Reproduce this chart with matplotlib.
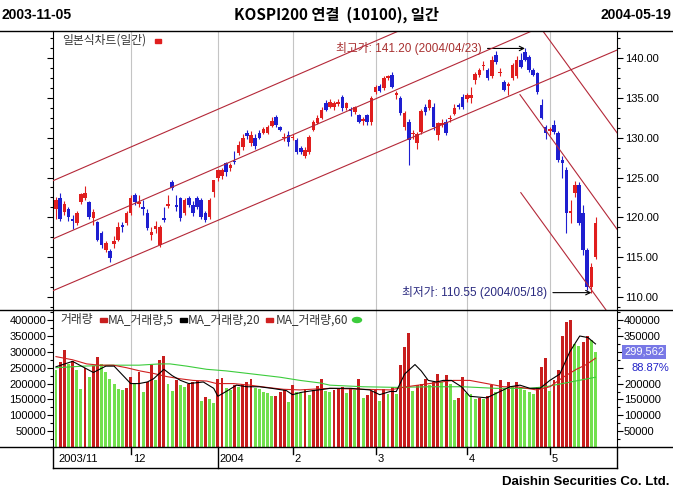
import numpy as np
import matplotlib
matplotlib.use("Agg")
import matplotlib.pyplot as plt
import matplotlib.transforms as mtransforms
from matplotlib.ticker import MultipleLocator, FixedLocator, FuncFormatter
from matplotlib.lines import Line2D
from matplotlib.patches import Rectangle, Ellipse

plt.rcParams['font.family'] = ['Liberation Sans', 'Noto Sans CJK KR', 'DejaVu Sans']

# KOSPI200 daily candles, 2003-11-05 .. 2004-05-19 (131 sessions)
opens = [121.0, 122.4, 120.7, 121.0, 119.8, 119.3, 121.9, 122.4, 121.9, 119.9,
         119.4, 118.0, 115.9, 115.8, 116.6, 117.2, 119.0, 119.3, 120.5, 122.8,
         121.7, 121.3, 120.5, 117.8, 118.5, 116.5, 119.9, 121.4, 124.4, 121.5,
         122.4, 120.5, 122.4, 121.6, 122.4, 122.2, 120.5, 120.0, 123.2, 125.0,
         125.2, 126.8, 126.2, 127.1, 128.1, 128.8, 130.6, 129.3, 130.0, 130.6,
         130.6, 130.6, 131.5, 132.6, 131.3, 130.0, 130.3, 130.0, 129.7, 128.7,
         127.7, 128.2, 131.0, 131.9, 132.5, 134.4, 133.9, 133.8, 134.2, 135.1,
         133.7, 133.6, 133.2, 132.8, 132.1, 132.8, 132.0, 135.7, 136.5, 136.2,
         137.5, 137.9, 135.4, 135.0, 131.3, 132.0, 130.4, 129.3, 130.7, 133.8,
         133.7, 133.8, 130.3, 131.6, 132.0, 132.3, 133.0, 134.1, 135.1, 134.8,
         135.0, 137.2, 137.9, 139.0, 138.5, 137.7, 140.4, 138.1, 137.0, 136.5,
         137.5, 137.7, 139.8, 140.8, 140.1, 138.5, 138.1, 134.1, 131.3, 130.8,
         131.6, 130.6, 127.2, 126.0, 120.6, 123.0, 124.0, 120.6, 115.9, 111.3,
         115.0]
highs = [122.6, 123.0, 122.0, 121.3, 120.3, 120.8, 123.1, 123.9, 122.1, 121.0,
         119.6, 118.3, 117.0, 116.0, 117.6, 119.4, 119.4, 120.8, 122.8, 123.0,
         122.8, 122.2, 121.0, 118.8, 119.6, 119.0, 121.3, 122.8, 124.7, 122.8,
         122.6, 122.4, 122.7, 122.0, 122.7, 122.4, 120.8, 122.4, 124.7, 126.1,
         126.2, 127.0, 126.8, 128.3, 129.6, 130.4, 131.0, 130.8, 130.4, 131.0,
         131.4, 131.6, 132.6, 132.9, 131.5, 130.6, 130.8, 130.5, 130.0, 128.9,
         128.8, 130.3, 132.2, 132.8, 133.8, 134.7, 134.8, 134.6, 134.9, 135.3,
         134.5, 133.8, 134.0, 133.0, 132.6, 133.0, 135.2, 136.6, 136.7, 137.8,
         137.9, 138.2, 135.9, 135.2, 133.4, 132.3, 131.0, 130.7, 133.6, 134.2,
         134.9, 134.3, 132.0, 132.3, 132.4, 132.9, 134.2, 134.4, 135.5, 135.6,
         136.4, 138.3, 138.8, 139.6, 138.8, 140.3, 140.9, 138.8, 137.3, 137.0,
         139.4, 140.2, 140.6, 141.2, 140.4, 138.7, 138.3, 134.8, 131.6, 131.3,
         132.2, 130.8, 127.7, 126.3, 122.2, 124.5, 124.4, 121.5, 116.2, 114.3,
         120.0]
lows = [119.8, 119.5, 120.3, 119.6, 118.5, 119.0, 121.7, 122.2, 119.8, 119.0,
        117.0, 116.2, 115.6, 114.4, 116.2, 117.0, 118.2, 119.1, 120.3, 121.6,
        121.3, 120.3, 118.4, 117.2, 118.0, 116.3, 119.4, 121.2, 123.4, 120.8,
        119.6, 120.3, 121.3, 120.2, 121.0, 119.8, 119.4, 119.8, 122.6, 124.6,
        124.8, 125.2, 125.8, 126.7, 127.8, 128.5, 129.8, 129.0, 128.6, 129.8,
        130.4, 130.4, 131.3, 131.4, 130.8, 129.6, 129.0, 129.7, 127.9, 127.9,
        127.5, 128.0, 130.8, 131.7, 132.3, 133.3, 133.7, 133.5, 134.0, 133.3,
        133.5, 132.7, 133.0, 131.8, 131.6, 131.6, 131.6, 135.5, 135.7, 136.0,
        137.2, 136.2, 134.9, 132.8, 131.0, 126.6, 129.8, 128.6, 130.5, 132.8,
        133.5, 131.0, 129.7, 131.3, 130.3, 132.0, 132.8, 133.6, 133.6, 134.5,
        134.4, 136.8, 137.6, 138.5, 137.2, 137.5, 139.3, 137.8, 135.8, 135.4,
        137.3, 137.5, 138.7, 139.6, 138.3, 137.7, 135.5, 132.3, 129.8, 130.3,
        130.5, 127.0, 125.0, 118.0, 119.3, 122.5, 119.0, 115.3, 110.9, 110.55,
        114.8]
closes = [122.2, 119.8, 121.7, 120.0, 119.6, 120.5, 122.9, 123.1, 120.0, 120.7,
          117.2, 116.5, 116.8, 114.9, 117.0, 118.8, 118.8, 120.5, 122.4, 121.9,
          121.9, 121.1, 118.7, 118.2, 118.9, 118.8, 119.7, 121.7, 123.7, 121.3,
          119.9, 122.2, 121.6, 120.5, 121.3, 120.0, 119.7, 122.2, 124.7, 125.9,
          126.0, 125.7, 126.6, 126.9, 129.1, 130.0, 130.2, 130.3, 129.0, 130.0,
          131.1, 131.3, 132.1, 131.6, 131.0, 130.1, 129.5, 130.1, 128.2, 128.2,
          128.5, 130.1, 132.0, 132.5, 133.5, 133.5, 134.5, 134.3, 134.5, 133.7,
          134.3, 133.4, 133.8, 132.0, 132.4, 132.0, 135.0, 136.4, 135.9, 137.5,
          137.7, 136.4, 135.6, 133.1, 133.1, 129.7, 130.6, 130.5, 133.4, 133.2,
          134.7, 131.3, 131.8, 131.8, 130.6, 132.5, 133.7, 133.9, 133.8, 135.3,
          135.3, 138.0, 138.5, 139.1, 137.5, 139.8, 139.5, 138.3, 136.0, 136.8,
          139.1, 139.8, 138.9, 139.8, 138.5, 137.9, 135.7, 132.5, 130.6, 131.1,
          130.7, 127.2, 126.8, 120.6, 120.8, 124.0, 119.3, 115.9, 111.3, 113.8,
          119.3]

# volume in thousands of contracts
volumes = [242, 268, 305, 262, 272, 242, 182, 248, 220, 255,
           285, 262, 235, 215, 200, 182, 180, 185, 222, 200,
           235, 175, 205, 258, 210, 275, 288, 200, 178, 212,
           195, 190, 200, 205, 207, 145, 158, 150, 140, 215,
           218, 185, 180, 195, 190, 200, 205, 215, 185, 182,
           175, 170, 160, 162, 175, 180, 143, 195, 172, 170,
           183, 165, 180, 193, 213, 178,
           172, 180, 185, 188, 170, 185, 180, 213, 155, 165,
           178, 183, 145, 183, 168, 190, 168, 258, 315, 360,
           178, 195, 198, 215, 195, 205, 230, 205, 228, 200,
           148, 153, 222, 170, 168, 152, 155, 150, 160, 195,
           175, 210, 183, 205, 190, 205, 190, 180, 175, 168,
           190, 252, 280, 178, 210, 243, 350, 395, 400, 325,
           320, 330, 350, 337.08, 299.562]

# volume moving averages (session index, thousands)
ma5_idx = [0, 4, 9, 12, 14, 18, 20, 22, 23.5, 26, 28, 30, 32, 35.5, 38, 39, 41,
           43.5, 46, 49, 52, 55.5, 57, 59, 62, 64.5, 66, 71, 75.6, 78, 80.5, 82,
           84, 86.5, 88, 89.7, 91.7, 93.3, 95.3, 97.7, 99.7, 103.8, 106.2, 109.4,
           111.8, 114.2, 116.6, 119, 121.4, 123.8, 126.2, 128.2, 130]
ma5_val = [253, 270, 235, 255, 255, 200, 200, 205, 215, 245, 225, 210, 200, 205,
           185, 160, 175, 195, 190, 190, 185, 178, 165, 172, 178, 182, 185, 185,
           180, 165, 175, 175, 230, 260, 240, 210, 205, 210, 210, 190, 160, 155,
           170, 190, 195, 185, 185, 210, 230, 300, 350, 345, 325]
ma20_idx = [0, 4, 7.4, 10.6, 13.8, 17, 20.2, 23.5, 26.7, 30, 33, 36.3, 38.7, 42.7,
            46.7, 50.8, 54.8, 58.8, 62.8, 66, 74, 80.5, 84.5, 90, 95.7, 99.7,
            103.8, 107.8, 111, 115.8, 119, 122.2, 125.4, 127.8, 130]
ma20_val = [285, 275, 262, 258, 258, 250, 240, 232, 222, 215, 210, 208, 200, 200,
            195, 188, 182, 180, 183, 185, 182, 180, 190, 200, 210, 210, 200, 190,
            190, 180, 190, 220, 245, 260, 280]
ma60_idx = [0, 6.6, 13, 20, 25, 27.5, 31.5, 36.3, 41, 47.5, 54, 58.8, 63.6, 66,
            74, 82, 90, 98, 106, 114, 118, 122, 126, 130]
ma60_val = [250, 255, 258, 258, 262, 262, 255, 245, 240, 230, 220, 210, 202, 195,
            190, 188, 190, 190, 185, 185, 190, 200, 210, 220]

# trend lines drawn on the chart: (start idx, start price, end idx, end price)
trend_lines = [(-0.7, 124.6, 82.6, 143.4),
               (-0.7, 117.3, 114.7, 143.4),
               (-0.7, 110.8, 135.2, 141.0),
               (117.3, 143.4, 135.2, 130.6),
               (111.8, 135.4, 135.2, 118.5),
               (112.0, 123.1, 132.5, 108.4)]

month_idx = [0, 18, 39, 57, 77, 99, 119]
month_lbl = ["2003/11", "12", "2004", "2", "3", "4", "5"]

hi_idx, lo_idx = 113, 129
hi_date, lo_date = "2004/04/23", "2004/05/18"

RED = '#e01e1e'
BLUE = '#1e1ed0'
VOL_UP = '#c81e1e'
VOL_DN = '#72e04e'
CH = '#b42838'
GRID = '#c4c4c4'

W, H = 673, 491
def fx(px):
    return px / W
def fy(py):
    return 1 - py / H

fig = plt.figure(figsize=(6.73, 4.91), dpi=100)
ax = fig.add_axes([fx(53), fy(310), fx(617) - fx(53), fy(31) - fy(310)])
axv = fig.add_axes([fx(53), fy(447), fx(617) - fx(53), fy(310) - fy(447)])

idx = np.arange(len(closes))
o = np.array(opens); c = np.array(closes)
h = np.array(highs); l = np.array(lows)
col = np.where(c >= o, RED, BLUE)

for m in month_idx[1:]:
    ax.axvline(m, color=GRID, lw=0.8, zorder=0)
    axv.axvline(m, color=GRID, lw=0.8, zorder=0)

# candles
ax.vlines(idx, l, h, colors=col, lw=0.8, zorder=2)
ax.bar(idx, np.maximum(np.abs(c - o), 0.12), bottom=np.minimum(o, c),
       width=0.85, color=col, linewidth=0, zorder=3)

for x0, y0, x1, y1 in trend_lines:
    ax.plot([x0, x1], [y0, y1], color=CH, lw=0.8, zorder=4)

ax.annotate(f"최고가: {highs[hi_idx]:.2f} ({hi_date})", xy=(hi_idx, highs[hi_idx]),
            xytext=(-43, 0), textcoords='offset pixels', ha='right', va='center',
            fontsize=8.5, color='#a83030',
            arrowprops=dict(arrowstyle='->', color='black', lw=0.8,
                            shrinkA=2, shrinkB=0, mutation_scale=8))
ax.annotate(f"최저가: {lows[lo_idx]:.2f} ({lo_date})", xy=(lo_idx, lows[lo_idx]),
            xytext=(-44, 0), textcoords='offset pixels', ha='right', va='center',
            fontsize=8.5, color='#2a2a80',
            arrowprops=dict(arrowstyle='->', color='black', lw=0.8,
                            shrinkA=2, shrinkB=0, mutation_scale=8))

xlim = (-0.72, 135.18)
ax.set_xlim(*xlim)
ax.set_ylim(108.37, 143.39)
ax.set_yticks([110, 115, 120, 125, 130, 135, 140])
ax.yaxis.set_major_formatter(FuncFormatter(lambda v, p: f"{v:.2f}"))
ax.yaxis.set_minor_locator(MultipleLocator(1.25))
ax.tick_params(axis='y', which='both', left=True, right=True, labelleft=False,
               labelright=True, direction='out', labelsize=8, pad=2)
ax.tick_params(axis='y', which='major', length=4, width=0.8)
ax.tick_params(axis='y', which='minor', length=2, width=0.8)
ax.tick_params(axis='x', bottom=False, labelbottom=False)
for s in ['top', 'bottom']:
    ax.spines[s].set_visible(False)

# volume pane
vol = np.array(volumes)
vup = np.r_[False, vol[1:] >= vol[:-1]]
axv.bar(idx, vol, width=0.7, color=np.where(vup, VOL_UP, VOL_DN), linewidth=0, zorder=2)
axv.plot(ma60_idx, ma60_val, color='#3ccc3c', lw=0.8, zorder=3)
axv.plot(ma20_idx, ma20_val, color='#d02020', lw=0.8, zorder=3)
axv.plot(ma5_idx, ma5_val, color='black', lw=0.8, zorder=4)
axv.set_xlim(*xlim)
axv.set_ylim(0, 432)
axv.yaxis.set_major_locator(FixedLocator(list(range(50, 401, 50))))
axv.yaxis.set_major_formatter(FuncFormatter(lambda v, p: f"{int(v * 1000)}"))
axv.yaxis.set_minor_locator(MultipleLocator(25))
axv.tick_params(axis='y', which='both', left=True, right=True, labelleft=True,
                labelright=True, direction='out', labelsize=8, pad=1)
axv.tick_params(axis='y', which='major', length=4, width=0.8)
axv.tick_params(axis='y', which='minor', length=2, width=0.8)
axv.tick_params(axis='x', bottom=False, labelbottom=False)
for s in ['top', 'bottom']:
    axv.spines[s].set_visible(False)
# right-hand labels under the last-volume readout are hidden
fig.canvas.draw()
for t in axv.yaxis.get_major_ticks():
    if t.get_loc() in (250, 300):
        t.label2.set_visible(False)

# frame lines
for y in (31, 310, 447):
    fig.add_artist(Line2D([0, 1], [fy(y), fy(y)], color='black', lw=1))
fig.add_artist(Line2D([fx(53), fx(617)], [fy(468), fy(468)], color='black', lw=1))
for x in (53, 617):
    fig.add_artist(Line2D([fx(x), fx(x)], [fy(447), fy(468)], color='black', lw=1))

# month axis
trans = mtransforms.blended_transform_factory(axv.transData, fig.transFigure)
lab_tr = mtransforms.offset_copy(trans, fig=fig, x=2, y=0, units='dots')
for m, lab in zip(month_idx, month_lbl):
    if m > 0:
        y_end = 468 if len(lab) == 4 else 454
        fig.add_artist(Line2D([m, m], [fy(447), fy(y_end)], color='black', lw=1,
                              transform=trans))
    fig.text(m, fy(459), lab, transform=lab_tr, ha='left', va='center', fontsize=8)

# header / footer
bold = dict(fontweight='bold', family=['Liberation Sans', 'Noto Sans CJK KR'])
fig.text(fx(2), fy(15), "2003-11-05", ha='left', va='center', fontsize=10, **bold)
fig.text(fx(336), fy(15), "KOSPI200 연결  (10100), 일간", ha='center', va='center',
         fontsize=11, fontweight='bold', family=['Noto Sans CJK KR', 'DejaVu Sans'])
fig.text(fx(671), fy(15), "2004-05-19", ha='right', va='center', fontsize=10, **bold)
fig.text(fx(670), fy(482), "Daishin Securities Co. Ltd.", ha='right', va='center',
         fontsize=9.5, **bold)

# pane legends
kfam = ['Noto Sans CJK KR', 'DejaVu Sans']
fig.text(fx(62), fy(40), "일본식차트(일간)", ha='left', va='center', fontsize=8.5,
         color='#333333', family=kfam)
fig.add_artist(Rectangle((fx(155), fy(43)), 6 / W, 4 / H, color=RED))

leg = [("거래량", 60, 100, VOL_UP), ("MA_거래량,5", 108, 180, 'black'),
       ("MA_거래량,20", 188, 266, '#d02020'), ("MA_거래량,60", 276, 353, '#3ccc3c')]
for k, (txt, tx, mx, mc) in enumerate(leg):
    fig.text(fx(tx), fy(320), txt, ha='left', va='center', fontsize=8.5,
             color='#333333', family=kfam)
    if k < 3:
        fig.add_artist(Rectangle((fx(mx), fy(322)), 7 / W, 4 / H, color=mc))
    else:
        fig.add_artist(Ellipse((fx(mx + 4), fy(320)), 9 / W, 5 / H, color=mc))

# last volume readout
last = volumes[-1] * 1000
pct = volumes[-1] / volumes[-2] * 100
fig.text(fx(624), fy(352), f"{round(last):,}", ha='left', va='center', fontsize=8,
         color='white', bbox=dict(facecolor='#7878e6', edgecolor='none', pad=1.5))
fig.text(fx(632), fy(368), f"{pct:.2f}%", ha='left', va='center', fontsize=8,
         color='#2323c8')

fig.savefig('out.png', dpi=100)
